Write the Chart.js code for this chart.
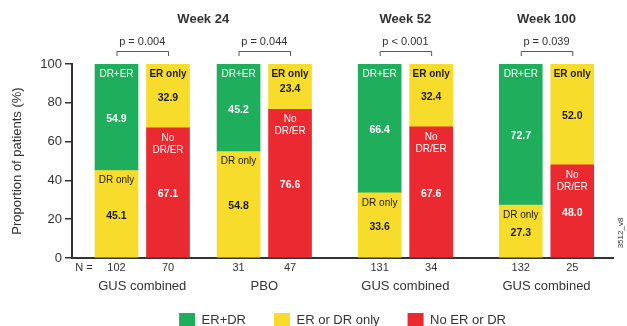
<!DOCTYPE html>
<html>
<head>
<meta charset="utf-8">
<script src="https://cdn.jsdelivr.net/npm/chart.js@4/dist/chart.umd.min.js"></script>
<style>
  html, body { margin: 0; padding: 0; background: #fff; }
  #chart { display: block; }
</style>
</head>
<body>
<canvas id="chart" width="627" height="326"></canvas>
<script>
// bar slots along the x axis (pairs grouped by visit)
const barSlots = [0, 1, 2.37, 3.37, 5.11, 6.11, 7.85, 8.85];
const nCounts = ['102', '70', '31', '47', '131', '34', '132', '25'];

// series values (%)
const erPlusDr = [54.9, null, 45.2, null, 66.4, null, 72.7, null];
const erOrDrOnly = [45.1, 32.9, 54.8, 23.4, 33.6, 32.4, 27.3, 52.0];
const noErOrDr = [null, 67.1, null, 76.6, null, 67.6, null, 48.0];

// labels written inside the yellow segments
const yellowTags = ['DR only', 'ER only', 'DR only', 'ER only', 'DR only', 'ER only', 'DR only', 'ER only'];

const groupLabels = ['GUS combined', 'PBO', 'GUS combined', 'GUS combined'];
const pValues = ['p = 0.004', 'p = 0.044', 'p < 0.001', 'p = 0.039'];
const weekTitles = ['Week 24', 'Week 52', 'Week 100'];
const weekBars = [[0, 3], [4, 5], [6, 7]];

const GREEN = '#1fae5b';
const YELLOW = '#f8dc2b';
const RED = '#ea2a30';
const INK = '#333';
const FONT = "'Liberation Sans', Arial, Helvetica, sans-serif";

const toPoints = arr => barSlots.map((x, i) => ({ x, y: arr[i] }));

const annotate = {
  id: 'annotate',
  afterDatasetsDraw(chart) {
    const c = chart.ctx;
    c.save();
    c.textAlign = 'center';
    c.textBaseline = 'middle';
    chart.data.datasets.forEach((ds, d) => {
      const meta = chart.getDatasetMeta(d);
      meta.data.forEach((bar, i) => {
        const v = ds.data[i].y;
        if (v == null) return;
        const top = Math.min(bar.y, bar.base);
        const bottom = Math.max(bar.y, bar.base);
        c.fillStyle = d === 1 ? '#1a1a1a' : '#fff';
        let tag;
        if (d === 0) tag = ['No', 'DR/ER'];
        else if (d === 1) tag = [yellowTags[i]];
        else tag = ['DR+ER'];
        const bold = tag[0] === 'ER only';
        c.font = (bold ? 'bold ' : '') + '10px ' + FONT;
        tag.forEach((t, k) => c.fillText(t, bar.x, top + 10 + k * 12));
        c.font = 'bold 10.5px ' + FONT;
        c.fillText(v.toFixed(1), bar.x, (top + bottom) / 2 + 2);
      });
    });
    c.restore();
  },
  afterDraw(chart) {
    const c = chart.ctx;
    const xs = chart.scales.x;
    const px = i => xs.getPixelForValue(barSlots[i]);
    c.save();
    c.textAlign = 'center';
    c.textBaseline = 'middle';
    c.fillStyle = INK;

    // week titles
    c.font = 'bold 13px ' + FONT;
    weekTitles.forEach((t, w) => {
      const [a, b] = weekBars[w];
      c.fillText(t, (px(a) + px(b)) / 2, 19);
    });

    // p-values with brackets
    pValues.forEach((p, g) => {
      const a = px(g * 2), b = px(g * 2 + 1);
      c.font = '11px ' + FONT;
      c.fillStyle = INK;
      c.fillText(p, (a + b) / 2, 42);
      c.strokeStyle = '#555';
      c.lineWidth = 1;
      c.beginPath();
      c.moveTo(a + 0.5, 56);
      c.lineTo(a + 0.5, 51.5);
      c.lineTo(b + 0.5, 51.5);
      c.lineTo(b + 0.5, 56);
      c.stroke();
    });

    // N row and group labels
    const base = chart.chartArea.bottom;
    c.font = '11px ' + FONT;
    c.fillText('N =', 84, base + 10);
    nCounts.forEach((n, i) => c.fillText(n, px(i), base + 10));
    c.font = '13px ' + FONT;
    groupLabels.forEach((t, g) => {
      c.fillText(t, (px(g * 2) + px(g * 2 + 1)) / 2, base + 28);
    });

    // figure code
    c.translate(621, 233);
    c.rotate(-Math.PI / 2);
    c.font = '8px ' + FONT;
    c.fillText('3512_v8', 0, 0);
    c.restore();
  }
};

new Chart(document.getElementById('chart'), {
  type: 'bar',
  data: {
    datasets: [
      { label: 'No ER or DR', data: toPoints(noErOrDr), backgroundColor: RED },
      { label: 'ER or DR only', data: toPoints(erOrDrOnly), backgroundColor: YELLOW },
      { label: 'ER+DR', data: toPoints(erPlusDr), backgroundColor: GREEN },
    ],
  },
  options: {
    responsive: false,
    animation: false,
    barThickness: 43,
    layout: { padding: { top: 64, right: 14, left: 0, bottom: -11 } },
    plugins: {
      tooltip: { enabled: false },
      legend: {
        position: 'bottom',
        fullSize: false,
        reverse: true,
        labels: {
          boxWidth: 16,
          boxHeight: 14,
          padding: 28,
          color: INK,
          font: { family: FONT, size: 13 },
        },
      },
    },
    scales: {
      x: {
        type: 'linear',
        stacked: true,
        offset: false,
        min: -0.864,
        max: 9.641,
        grid: { display: false, drawTicks: false, offset: false },
        ticks: { display: false },
        border: { color: INK, width: 2 },
        afterFit(s) { s.height = 27; },
      },
      y: {
        stacked: true,
        min: 0,
        max: 100,
        ticks: { stepSize: 20, color: INK, padding: 3, font: { family: FONT, size: 13 } },
        grid: { drawOnChartArea: false, tickLength: 7, color: INK, lineWidth: 1.5 },
        border: { color: INK, width: 2 },
        title: {
          display: true,
          text: 'Proportion of patients (%)',
          color: INK,
          font: { family: FONT, size: 13 },
          padding: { top: 10, bottom: 0 },
        },
        afterFit(s) { s.width = 72; },
      },
    },
  },
  plugins: [annotate],
});
</script>
</body>
</html>
